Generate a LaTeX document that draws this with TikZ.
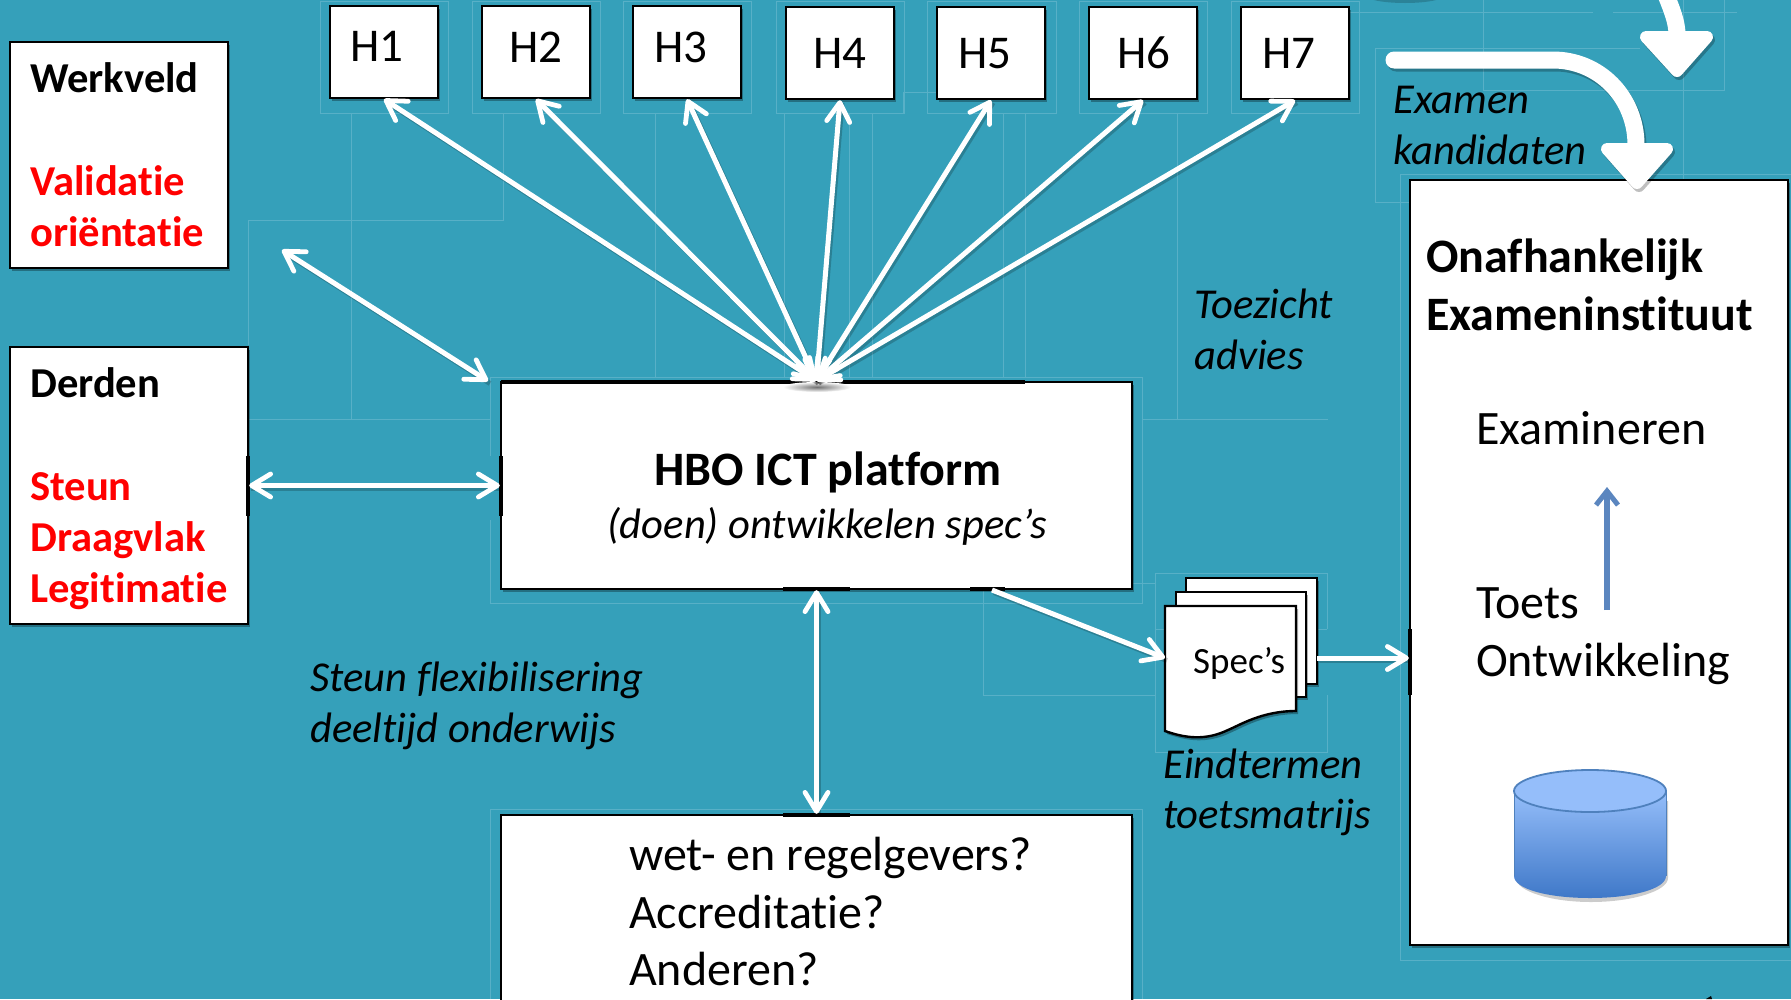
\documentclass[tikz,border=0pt]{standalone}
\usepackage{fontspec}
\setmainfont{Carlito}[Ligatures=CommonOff]
\usetikzlibrary{arrows.meta,shadows,calc}
\definecolor{bg}{HTML}{35A0BA}
\definecolor{blueln}{HTML}{5B86BF}
\definecolor{cyltop}{HTML}{95BEFA}
\definecolor{cylbot}{HTML}{3F78C8}
\definecolor{cylln}{HTML}{4F81BD}
\definecolor{guide}{HTML}{58B0C7}
\tikzset{
  px/.style={x=1pt,y=-1pt},
  whitebox/.style={draw=black,line width=2.4pt,fill=white,inner sep=0pt,anchor=center,
    drop shadow={shadow xshift=2pt,shadow yshift=-3pt,opacity=.3,fill=black}},
  lbl/.style={anchor=base west,inner sep=0pt,font=\fontsize{42.6}{50}\selectfont},
  hlbl/.style={anchor=base west,inner sep=0pt,font=\fontsize{47}{50}\selectfont},
  blbl/.style={lbl,font=\fontsize{42.6}{50}\selectfont\bfseries},
  rlbl/.style={blbl,text=red},
  ilbl/.style={lbl,font=\fontsize{42.6}{50}\selectfont\itshape},
  tbig/.style={anchor=base west,inner sep=0pt,font=\fontsize{48}{50}\selectfont\bfseries},
  barb/.tip={Straight Barb[length=19pt,width=23pt,line width=4.8pt,round]},
  link/.style={draw=white,line width=5pt,barb-barb},
  onelink/.style={draw=white,line width=5pt,-barb},
  linkshadow/.style={draw=black,opacity=.2,line width=5pt,transform canvas={xshift=2pt,yshift=-2.5pt}},
  guideline/.style={draw=guide,line width=.8pt},
  heavy/.style={draw=black,line width=3.4pt},
}
\begin{document}
\begin{tikzpicture}[px]
\useasboundingbox (0,0) rectangle (1791,999);
\clip (0,0) rectangle (1791,999);
\fill[bg] (0,0) rectangle (1791,999);

% faint guide lines
\foreach \a/\b in {320/448,472/600,623/751,776/904,927/1056,1079/1207,1231/1359}{
  \draw[guideline] (\a,1) -- (\b,1) -- (\b,113) -- (\a,113) -- cycle;}
\draw[guideline] (351,113) -- (351,419);
\draw[guideline] (503,113) -- (503,220) -- (248,220) -- (248,345);
\draw[guideline] (655,113) -- (655,377);
\draw[guideline] (248,419) -- (490,419);
\draw[guideline] (490,456) -- (490,377) -- (1142,377) -- (1142,603) -- (490,603) -- (490,520);
\draw[guideline] (784,113) -- (784,377);
\draw[guideline] (849,113) -- (849,377);
\draw[guideline] (872,377) -- (872,113) -- (903,113) -- (903,92) -- (936,92);
\draw[guideline] (1003,113) -- (1003,377);
\draw[guideline] (1025,113) -- (1025,377);
\draw[guideline] (1177,113) -- (1177,419) -- (1328,419);
\draw[guideline] (1142,419) -- (1177,419);
\draw[guideline] (1375,48) -- (1375,202) -- (1410,202);
\draw[guideline] (1375,48) -- (1640,48);
\draw[guideline] (1300,12) -- (1593,12);
\draw[guideline] (1613,12) -- (1737,12);
\draw[guideline] (1483,0) -- (1483,90) -- (1724,90) -- (1724,0);
\draw[guideline] (1683,0) -- (1683,180);
\draw[guideline] (1791,174) -- (1400,174) -- (1400,960) -- (1791,960);
\draw[guideline] (490,999) -- (490,809) -- (1142,809) -- (1142,999);
\draw[guideline] (1155,695) -- (1155,573) -- (1327,573) -- (1327,629);
\draw[guideline] (1155,629) -- (1327,629);
\draw[guideline] (1155,695) -- (1155,752) -- (1327,752) -- (1327,695);
\draw[guideline] (1132,583) -- (1155,583);
\draw[guideline] (983,589) -- (983,695) -- (1155,695);

% dark trace at the top edge and black trace at the bottom edge
\fill[black,opacity=.18] (1405,-5) ellipse [x radius=40pt,y radius=8pt];
\fill[black] (1706,999) -- (1711,996) -- (1712,999) -- cycle;

% boxes
\node[whitebox,minimum width=218pt,minimum height=226pt] (werk) at (119,155) {};
\node[whitebox,minimum width=238pt,minimum height=277pt] (derden) at (129,485.5) {};
\node[whitebox,minimum width=631pt,minimum height=207pt] (hbo) at (816.5,485.5) {};
\node[whitebox,minimum width=631pt,minimum height=195pt] (wet) at (816.5,912.5) {};
\node[whitebox,minimum width=378pt,minimum height=765pt] (exam) at (1599,562.5) {};
\foreach \n/\x/\y in {1/384/52,2/536/52,3/687/52,4/840/53,5/991/53,6/1143/53,7/1295/53}
  \node[whitebox,minimum width=108pt,minimum height=92pt] (H\n) at (\x,\y) {};

% heavier border stretches at the connection sites
\draw[heavy] (501,382) -- (1025,382);
\draw[heavy] (783,589) -- (850,589);
\draw[heavy] (783,815) -- (850,815);
\draw[heavy] (248,456) -- (248,516);
\draw[heavy] (501,456) -- (501,516);
\draw[heavy] (1410,629) -- (1410,695);
\draw[heavy] (970,589) -- (1005,589);

% spec pages
\node[whitebox,minimum width=131pt,minimum height=106pt] (p3) at (1251.5,631) {};
\node[whitebox,minimum width=130pt,minimum height=105pt] (p2) at (1241,644.5) {};
\draw[draw=black,line width=2.4pt,fill=white,
   drop shadow={shadow xshift=2pt,shadow yshift=-3pt,opacity=.3,fill=black}]
   (1165,606) -- (1296,606) -- (1296,711)
   .. controls (1262,711) and (1240,725) .. (1228,730)
   .. controls (1205,741) and (1185,738) .. (1165,731) -- cycle;
\coordinate (specL) at (1165,658);
\coordinate (specR) at (1317,658);
\coordinate (examL) at (exam.west |- specR);

% soft shade under the fan of arrows
\shade[inner color=black!55,outer color=white] (817,387) ellipse [x radius=34pt,y radius=5pt];

% connectors: shadows
\foreach \n in {1,...,7} \draw[linkshadow] (hbo.north) -- (H\n.south);
\coordinate (free) at (282,250);
\coordinate (hboc) at (488,381);
\draw[linkshadow] (free) -- (hboc);
\draw[linkshadow] (derden.east) -- (hbo.west);
\draw[linkshadow] (hbo.south) -- (wet.north);
\coordinate (hbos) at (992,590);
\draw[linkshadow] (hbos) -- (specL);
\draw[linkshadow] (specR) -- (examL);

% connectors
\foreach \n in {1,...,7} \draw[link] (hbo.north) -- (H\n.south);
\draw[link] (free) -- (hboc);
\draw[link] (derden.east) -- (hbo.west);
\draw[link] (hbo.south) -- (wet.north);
\draw[onelink] (hbos) -- (specL);
\draw[onelink] (specR) -- (examL);

% big curved arrows
\coordinate (ca) at (1394,60);
\coordinate (cb) at (1636,145);
\coordinate (cc) at (1666,-5);
\coordinate (cd) at (1677,35);
\begin{scope}[transform canvas={xshift=2pt,yshift=-3pt},opacity=.25]
\draw[black,line width=17pt,line cap=round] (ca) -- (1553,60) .. controls (1599,60) and (1636,97) .. (cb);
\draw[black,fill=black,line width=12pt,line join=round] (1607,149) -- (1667,149) -- (1637,183) -- cycle;
\draw[black,fill=black,line width=12pt,line join=round] (1646,37) -- (1707,37) -- (1677,71) -- cycle;
\end{scope}
\draw[white,line width=17pt,line cap=round] (ca) -- (1553,60) .. controls (1599,60) and (1636,97) .. (cb);
\draw[white,fill=white,line width=12pt,line join=round] (1607,149) -- (1667,149) -- (1637,183) -- cycle;
\draw[white,line width=17pt] (cc) .. controls (1672,10) and (1677,22) .. (cd);
\draw[white,fill=white,line width=12pt,line join=round] (1646,37) -- (1707,37) -- (1677,71) -- cycle;

% blue arrow
\coordinate (ba) at (1607,610);
\coordinate (bb) at (1607,487);
\draw[blueln,line width=5.5pt,-{Straight Barb[length=14pt,width=22pt,line width=5pt]}] (ba) -- (bb);

% cylinder
\fill[black,opacity=.2] (1516,801) -- (1516,878) .. controls (1516,891) and (1550,902) .. (1591,902)
  .. controls (1632,902) and (1668,891) .. (1668,878) -- (1668,801) -- cycle;
\shade[top color=cyltop,bottom color=cylbot]
  (1514,791) -- (1514,876) .. controls (1514,889) and (1548,898) .. (1590,898)
  .. controls (1632,898) and (1666,889) .. (1666,876) -- (1666,791) -- cycle;
\draw[cylln,line width=1pt] (1514,791) -- (1514,876);
\draw[cylln,line width=1pt] (1666,791) -- (1666,876);
\draw[cylln,line width=1.8pt,fill=cyltop] (1590,791) ellipse [x radius=76pt,y radius=21pt];

% H labels
\node[hlbl] (tH1) at (350,61) {H1};
\node[hlbl] (tH2) at (509,62) {H2};
\node[hlbl] (tH3) at (654,62) {H3};
\node[hlbl] (tH4) at (813,68) {H4};
\node[hlbl] (tH5) at (958,68) {H5};
\node[hlbl] (tH6) at (1117,68) {H6};
\node[hlbl] (tH7) at (1262,68) {H7};

% texts
\node[blbl] (t1) at (30,92) {Werkveld};
\node[rlbl] (t2) at (30,195) {Validatie};
\node[rlbl] (t3) at (30,246) {oriëntatie};
\node[blbl] (t4) at (30,397) {Derden};
\node[rlbl] (t5) at (30,500) {Steun};
\node[rlbl] (t6) at (30,551) {Draagvlak};
\node[rlbl] (t7) at (30,602) {Legitimatie};
\node[anchor=base,inner sep=0pt,font=\fontsize{48}{50}\selectfont\bfseries] (t8) at (828,485) {HBO ICT platform};
\node[anchor=base,inner sep=0pt,font=\fontsize{42.6}{50}\selectfont\itshape] (t9) at (827,538) {(doen) ontwikkelen spec’s};
\node[ilbl] (t10) at (310,691) {Steun flexibilisering};
\node[ilbl] (t11) at (310,742) {deeltijd onderwijs};
\node[ilbl] (t12) at (1194,318) {Toezicht};
\node[ilbl] (t13) at (1194,369) {advies};
\node[ilbl] (t14) at (1393,113) {Examen};
\node[ilbl] (t15) at (1393,164) {kandidaten};
\node[tbig] (t16) at (1426,272) {Onafhankelijk};
\node[tbig] (t17) at (1426,330) {Exameninstituut};
\node[hlbl,font=\fontsize{48}{50}\selectfont] (t18) at (1476,444) {Examineren};
\node[hlbl,font=\fontsize{48}{50}\selectfont] (t19) at (1476,618) {Toets};
\node[hlbl,font=\fontsize{48}{50}\selectfont] (t20) at (1476,676) {Ontwikkeling};
\node[ilbl] (t21) at (1163,778) {Eindtermen};
\node[ilbl] (t22) at (1163,828) {toetsmatrijs};
\node[anchor=base west,inner sep=0pt,font=\fontsize{37}{40}\selectfont] (t23) at (1193,673) {Spec’s};
\node[hlbl,font=\fontsize{48}{50}\selectfont] (t24) at (629,870) {wet- en regelgevers?};
\node[hlbl,font=\fontsize{48}{50}\selectfont] (t25) at (629,928) {Accreditatie?};
\node[hlbl,font=\fontsize{48}{50}\selectfont] (t26) at (629,985) {Anderen?};
\end{tikzpicture}
\end{document}
